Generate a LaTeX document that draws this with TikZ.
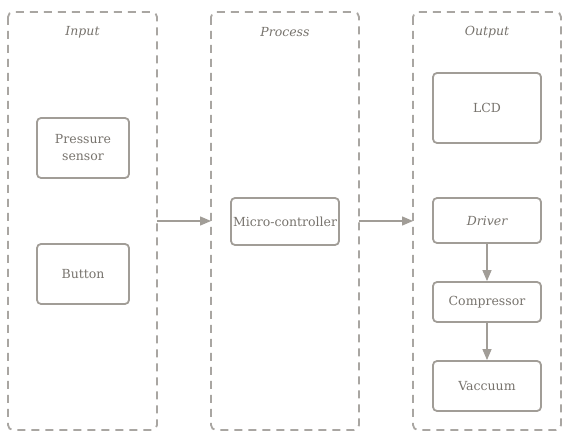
\documentclass[tikz,border=0pt]{standalone}
\usepackage{fontspec}
\setmainfont{DejaVu Serif}
\usetikzlibrary{arrows.meta}
\definecolor{dashc}{HTML}{A9A6A2}
\definecolor{boxc}{HTML}{A19D97}
\definecolor{txtc}{HTML}{77736D}
\tikzset{
  x=1pt, y=-1pt,
  column/.style={draw=dashc, line width=1.8pt, dash pattern=on 8pt off 6pt, rounded corners=5pt},
  title/.style={font=\itshape\fontsize{12.5}{15}\selectfont, text=txtc},
  blk/.style={draw=boxc, line width=1.8pt, rounded corners=4pt, font=\fontsize{12.5}{17}\selectfont, text=txtc, align=center, inner sep=0pt},
  conn/.style={draw=boxc, line width=1.3pt, -{Triangle[length=11pt,width=9pt]}}
}
\begin{document}
\begin{tikzpicture}
\useasboundingbox (0,0) rectangle (573,443);
% columns
\draw[column] (8,12) rectangle (157,430);
\draw[column] (211,12) rectangle (359,430);
\draw[column] (413,12) rectangle (561,430);
\coordinate (inR) at (157,221);
\coordinate (prL) at (211,221);
\coordinate (prR) at (359,221);
\coordinate (ouL) at (413,221);
\node[title] (tin) at (82.5,32) {Input};
\node[title] (tpr) at (285,32) {Process};
\node[title] (tou) at (487,32) {Output};
% blocks
\node[blk, minimum width=92pt, minimum height=60pt] (ps) at (83,148) {Pressure\\sensor};
\node[blk, minimum width=108pt, minimum height=47pt] (mc) at (285,221.5) {Micro-controller};
\node[blk, minimum width=92pt, minimum height=60pt] (bt) at (83,274) {Button};
\node[blk, minimum width=108pt, minimum height=70pt] (lcd) at (487,108) {LCD};
\node[blk, minimum width=108pt, minimum height=45pt, font=\itshape\fontsize{12.5}{17}\selectfont] (drv) at (487,220.5) {Driver};
\node[blk, minimum width=108pt, minimum height=40pt] (cmp) at (487,302) {Compressor};
\node[blk, minimum width=108pt, minimum height=50pt] (vac) at (487,386) {Vaccuum};
% connectors
\draw[conn] (inR) -- (prL);
\draw[conn] (prR) -- (ouL);
\draw[conn] (drv) -- (cmp);
\draw[conn] (cmp) -- (vac);
\end{tikzpicture}
\end{document}
